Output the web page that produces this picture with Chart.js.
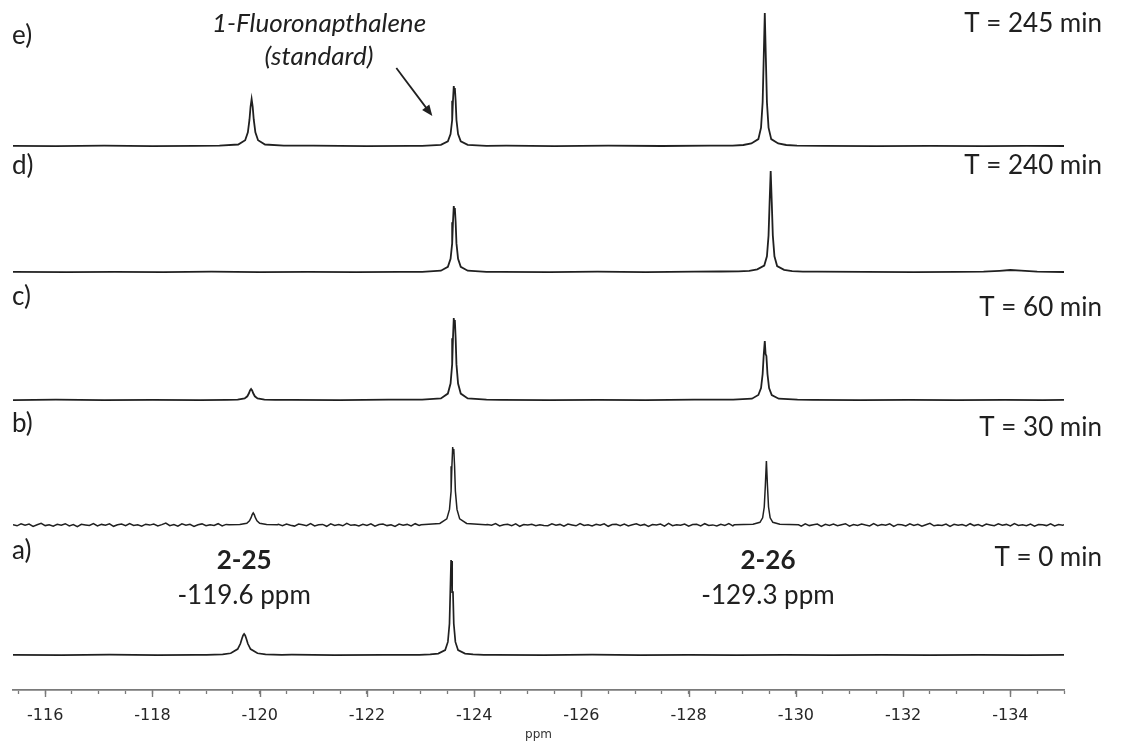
<!DOCTYPE html>
<html>
<head>
<meta charset="utf-8">
<script src="https://cdn.jsdelivr.net/npm/chart.js@4.4.1/dist/chart.umd.min.js"></script>
<style>
  html, body { margin: 0; padding: 0; background: #ffffff; }
  canvas { display: block; }
</style>
</head>
<body>
<canvas id="nmr" width="1121" height="742"></canvas>
<script>
// 19F NMR reaction monitoring: five stacked spectra (bottom a → top e)
const panelLetters = ['a)', 'b)', 'c)', 'd)', 'e)'];
const panelTimes   = ['T = 0 min', 'T = 30 min', 'T = 60 min', 'T = 240 min', 'T = 245 min'];
const ppmTickLabels = [-116, -118, -120, -122, -124, -126, -128, -130, -132, -134];

// a) T = 0 min — baseline points and peaks as [ppm, intensity]
const specA_base = [[-115.4,0.2],[-116.3,-0.2],[-117.2,0.3],[-118.1,-0.1],[-118.8,0.2],[-120.6,0.3],[-121.4,-0.2],[-122.3,0.2],
  [-124.4,0.2],[-125.3,-0.2],[-126.2,0.3],[-127.1,-0.1],[-128.0,0.2],[-128.9,-0.2],[-129.8,0.2],[-130.7,-0.1],[-131.6,0.2],
  [-132.5,-0.2],[-133.4,0.2],[-134.3,-0.1],[-135.0,0.1]];
const specA_peaks = [
  [[-119.01,0.2],[-119.31,0.7],[-119.46,1.7],[-119.59,5.9],[-119.64,11.2],[-119.67,16.4],[-119.69,19.6],[-119.71,21],
   [-119.73,19.6],[-119.75,16.4],[-119.78,11.2],[-119.83,5.9],[-119.96,1.7],[-120.11,0.7],[-120.41,0.2]],
  [[-122.98,0.2],[-123.18,0.6],[-123.33,1.4],[-123.46,4.9],[-123.51,13.1],[-123.54,31.3],[-123.555,62.9],[-123.57,95],
   [-123.58,88],[-123.59,94],[-123.605,62.9],[-123.62,31.3],[-123.65,13.1],[-123.70,4.9],[-123.83,1.4],[-123.98,0.6],[-124.18,0.2]]
];

// b) T = 30 min — noisier acquisition, baseline read every 0.075 ppm from -115.4
const specB_noise = [0.4,-0.8,1.2,-0.3,0.9,-1.4,0.2,1.6,-0.6,0.3,-1.1,0.8,-0.2,1.3,-0.9,0.5,-1.6,0.7,0.1,-0.5,
  1.4,-1.0,0.6,-0.3,1.1,-1.3,0.2,0.9,-0.7,1.5,-0.4,0.3,-1.2,0.8,-0.1,1.0,-0.9,0.4,2.0,-0.6,
  0.5,-1.1,1.2,-0.2,0.7,-1.5,0.3,1.1,-0.8,0.2,-0.4,1.3,-1.0,0.6,-0.3,0.9,-1.2,1.6,-0.5,0.1,
  -0.9,0.8,-0.3,1.2,-1.4,0.4,0.7,-0.6,1.0,-0.2,-1.1,0.9,0.3,-0.7,1.4,-0.9,0.2,0.6,-1.3,1.1,
  -0.4,0.5,-0.8,1.7,-0.3,0.2,-1.0,0.8,-0.5,1.2,-1.1,0.4,0.9,-0.6,0.3,-1.4,1.0,-0.2,0.6,-0.9,
  1.3,-0.4,0.1,-1.2,0.7,0.5,-0.8,1.1,-0.3,0.9,-1.5,0.4,1.2,-0.7,0.2,-0.4,1.0,-1.1,0.6,-0.2,
  1.4,-0.9,0.3,0.8,-0.6,1.1,-1.3,0.5,-0.1,0.7,-0.8,0.3,-0.5,
  -0.7,1.1,-0.2,0.6,-1.2,0.9,0.1,-0.8,1.5,-0.5,0.3,-1.0,0.7,-0.3,1.2,-1.3,0.4,0.8,-0.6,1.0,
  -0.9,0.2,1.3,-0.4,0.6,-1.5,0.5,-0.1,0.9,-1.1,1.6,-0.7,0.3,-0.2,1.0,-1.2,0.4,0.7,-0.9,1.3,
  -0.5,0.1,-1.0,0.8,-0.4,1.4,-0.8,0.5,-1.3,0.9,0.2,-0.6,1.1,-1.0,0.3,-0.3,1.5,-0.9,0.6,-1.4,
  0.8,-0.2,0.4,-1.1,1.2,-0.6,0.2,0.9,-1.3,0.7,-0.4,1.0,-0.8,0.3,1.3,-1.2,0.5,-0.5,0.9,-0.1,
  -1.0,1.4,-0.7,0.4,-0.3,1.1,-1.4,0.6,0.2,-0.9,1.2,-0.5,0.8,-1.1,0.3,1.6,-0.8,0.1,-0.4,1.0,
  -1.3,0.7,-0.2,0.5,-0.9,1.3,-0.6,0.4,-1.2,0.9,0.1,-0.7,1.1,-0.3,0.6,-1.0,1.4,-0.5,0.2,-0.8,
  1.0,-1.1,0.5,0.3,-0.6,1.2,-0.9,0.4,-0.2,0.8,-1.2,0.6,-0.4];
const specB_peaks = [
  [[-119.43,0.2],[-119.63,0.5],[-119.76,1.8],[-119.81,4.1],[-119.84,7.3],[-119.86,10.3],[-119.88,12],
   [-119.90,10.3],[-119.92,7.3],[-119.95,4.1],[-120.00,1.8],[-120.13,0.5],[-120.33,0.2]],
  [[-123.01,0.3],[-123.36,1.5],[-123.49,6.1],[-123.54,15.6],[-123.57,33.9],[-123.585,58.8],[-123.60,78],
   [-123.61,71],[-123.62,76],[-123.635,58.8],[-123.65,33.9],[-123.68,15.6],[-123.73,6.1],[-123.86,1.5],[-124.21,0.3]],
  [[-128.85,0.2],[-129.20,0.7],[-129.33,2.7],[-129.38,7.2],[-129.41,18],[-129.43,39],[-129.45,64],
   [-129.47,39],[-129.49,18],[-129.52,7.2],[-129.57,2.7],[-129.70,0.7],[-130.05,0.2]]
];

// c) T = 60 min
const specC_base = [[-115.4,-0.1],[-116.2,0.3],[-117.1,-0.2],[-118.0,0.2],[-118.9,-0.1],[-120.6,0.2],[-121.5,-0.2],[-122.4,0.3],
  [-124.5,0.2],[-125.4,-0.2],[-126.3,0.2],[-127.2,-0.1],[-128.1,0.3],[-130.3,0.2],[-131.2,-0.2],[-132.1,0.2],[-133.0,-0.1],
  [-133.9,0.2],[-134.6,-0.1],[-135.0,0.1]];
const specC_peaks = [
  [[-119.39,0.2],[-119.59,0.4],[-119.72,1.6],[-119.77,3.7],[-119.80,6.7],[-119.82,9.5],[-119.84,11],
   [-119.86,9.5],[-119.88,6.7],[-119.91,3.7],[-119.96,1.6],[-120.09,0.4],[-120.29,0.2]],
  [[-123.03,0.3],[-123.38,1.6],[-123.51,6.4],[-123.56,16.4],[-123.59,35.6],[-123.605,61.8],[-123.62,82],
   [-123.63,74],[-123.64,80],[-123.655,61.8],[-123.67,35.6],[-123.70,16.4],[-123.75,6.4],[-123.88,1.6],[-124.23,0.3]],
  [[-128.83,0.3],[-129.18,1.3],[-129.30,5],[-129.35,12],[-129.38,26],[-129.40,45],[-129.42,59],
   [-129.435,46],[-129.45,44],[-129.47,26],[-129.50,12],[-129.55,5],[-129.68,1.3],[-130.03,0.3]]
];

// d) T = 240 min
const specD_base = [[-115.4,0.2],[-116.4,-0.2],[-117.3,0.2],[-118.2,-0.1],[-119.1,0.3],[-120.0,-0.2],[-120.9,0.2],[-121.8,-0.1],
  [-122.6,0.2],[-124.5,0.2],[-125.4,-0.1],[-126.3,0.3],[-127.2,-0.2],[-128.1,0.4],[-128.6,0.5],[-130.4,0.4],[-131.3,0.1],
  [-132.2,-0.1],[-133.0,0.2],[-133.5,0.3],[-133.8,1.2],[-134.0,2],[-134.2,1.4],[-134.5,0.3],[-135.0,0]];
const specD_peaks = [
  [[-123.03,0.2],[-123.38,1.3],[-123.51,5.1],[-123.56,13.2],[-123.59,28.6],[-123.605,49.8],[-123.62,66],
   [-123.63,60],[-123.64,64],[-123.655,49.8],[-123.67,28.6],[-123.70,13.2],[-123.75,5.1],[-123.88,1.3],[-124.23,0.2]],
  [[-128.93,0.6],[-129.13,1.2],[-129.28,2.6],[-129.41,6.4],[-129.46,15.7],[-129.49,36.4],[-129.51,69.9],[-129.53,101],
   [-129.55,69.9],[-129.57,36.4],[-129.60,15.7],[-129.65,5.9],[-129.78,2.2],[-129.93,0.9],[-130.13,0.4]]
];

// e) T = 245 min
const specE_base = [[-115.4,0.2],[-116.2,-0.2],[-117.1,0.3],[-118.0,-0.1],[-118.8,0.2],[-121.0,0.3],[-122.0,-0.2],[-122.8,0.2],
  [-124.6,0.3],[-125.5,-0.2],[-126.5,0.3],[-127.5,0],[-128.4,0.3],[-130.5,0.2],[-131.5,-0.2],[-132.5,0.2],[-133.5,-0.1],
  [-134.3,0.2],[-135.0,0]];
const specE_peaks = [
  [[-119.25,0.3],[-119.60,1.5],[-119.73,5.8],[-119.78,13.7],[-119.81,26.3],[-119.83,39.2],[-119.85,47],
   [-119.87,39.2],[-119.89,26.3],[-119.92,13.7],[-119.97,5.8],[-120.10,1.5],[-120.45,0.3]],
  [[-123.03,0.2],[-123.38,1.1],[-123.51,4.7],[-123.56,12],[-123.59,26],[-123.605,45.2],[-123.62,60],
   [-123.63,54],[-123.64,58],[-123.655,45.2],[-123.67,26],[-123.70,12],[-123.75,4.7],[-123.88,1.1],[-124.23,0.2]],
  [[-128.82,0.4],[-129.02,1.0],[-129.17,2.5],[-129.30,6.9],[-129.35,18.4],[-129.38,43.8],[-129.40,88],[-129.42,133],
   [-129.44,88],[-129.46,43.8],[-129.49,18.4],[-129.54,6.9],[-129.67,2.5],[-129.82,1.0],[-130.02,0.4]]
];

// ---- layout of the stack (vertical offset of each spectrum's baseline) ----
const stackOffset = { a: 35, b: 165, c: 290, d: 418, e: 544 };
const PPM_LEFT = -115.4, PPM_RIGHT = -135.0;

function noiseToBase(values, start, step) {
  return values.map((v, i) => [start - i * step, v]);
}

// merge baseline readings with the peak profiles; baseline points inside a peak window are dropped
function buildSeries(base, peaks, offset) {
  const windows = peaks.map(p => {
    const xs = p.map(q => q[0]);
    return [Math.min(...xs), Math.max(...xs)];
  });
  const kept = base.filter(([x]) => x >= PPM_RIGHT && x <= PPM_LEFT &&
    !windows.some(([lo, hi]) => x >= lo && x <= hi));
  const pts = kept.concat(...peaks).sort((p, q) => p[0] - q[0]);
  return pts.map(([x, y]) => ({ x: x, y: y + offset }));
}

const specB_base = noiseToBase(specB_noise, PPM_LEFT, 0.075).concat([[PPM_RIGHT, 0.2]]);

const series = [
  { name: 'a', data: buildSeries(specA_base, specA_peaks, stackOffset.a), width: 1.7 },
  { name: 'b', data: buildSeries(specB_base, specB_peaks, stackOffset.b), width: 1.5 },
  { name: 'c', data: buildSeries(specC_base, specC_peaks, stackOffset.c), width: 1.8 },
  { name: 'd', data: buildSeries(specD_base, specD_peaks, stackOffset.d), width: 1.8 },
  { name: 'e', data: buildSeries(specE_base, specE_peaks, stackOffset.e), width: 1.8 }
];

const INK = '#202020';

// longer marks for the labelled (major) ppm ticks
const majorTicks = {
  id: 'majorTicks',
  afterDraw(chart) {
    const xs = chart.scales.x, ctx = chart.ctx;
    ctx.save();
    ctx.strokeStyle = '#7a7a7a';
    ctx.lineWidth = 1.4;
    ppmTickLabels.forEach(v => {
      const px = Math.round(xs.getPixelForValue(v)) + 0.5;
      ctx.beginPath();
      ctx.moveTo(px, xs.top);
      ctx.lineTo(px, xs.top + 7);
      ctx.stroke();
    });
    ctx.restore();
  }
};

// text annotations: panel letters, acquisition times, compound labels, standard arrow
const annotations = {
  id: 'annotations',
  afterDraw(chart) {
    const ctx = chart.ctx;
    const xs = chart.scales.x, ys = chart.scales.y;
    ctx.save();
    ctx.fillStyle = INK;
    ctx.textBaseline = 'middle';

    ctx.font = '26px Lato';
    ctx.textAlign = 'left';
    const letterY = [551, 424, 297, 166, 36];
    panelLetters.forEach((t, i) => ctx.fillText(t, 12, letterY[i]));

    ctx.textAlign = 'right';
    const timeY = [558, 428, 308, 166, 24];
    panelTimes.forEach((t, i) => ctx.fillText(t, 1102, timeY[i]));

    // compound labels above spectrum a
    ctx.textAlign = 'center';
    const x25 = xs.getPixelForValue(-119.71);
    const x26 = xs.getPixelForValue(-129.48);
    ctx.font = 'bold 26px Lato';
    ctx.fillText('2-25', x25, 561);
    ctx.fillText('2-26', x26, 561);
    ctx.font = '26px Lato';
    ctx.fillText('-119.6 ppm', x25, 596);
    ctx.fillText('-129.3 ppm', x26, 596);

    // internal standard label and arrow
    ctx.font = 'italic 26px Lato';
    ctx.fillText('1-Fluoronapthalene', 319, 24);
    ctx.fillText('(standard)', 319, 57);

    const tipX = xs.getPixelForValue(-123.22), tipY = ys.getPixelForValue(574);
    const tailX = tipX - 36, tailY = tipY - 48;
    const ang = Math.atan2(tipY - tailY, tipX - tailX);
    ctx.strokeStyle = INK;
    ctx.lineWidth = 1.8;
    ctx.beginPath();
    ctx.moveTo(tailX, tailY);
    ctx.lineTo(tipX - 7 * Math.cos(ang), tipY - 7 * Math.sin(ang));
    ctx.stroke();
    ctx.beginPath();
    ctx.moveTo(tipX, tipY);
    ctx.lineTo(tipX - 11 * Math.cos(ang) + 4.5 * Math.sin(ang), tipY - 11 * Math.sin(ang) - 4.5 * Math.cos(ang));
    ctx.lineTo(tipX - 11 * Math.cos(ang) - 4.5 * Math.sin(ang), tipY - 11 * Math.sin(ang) + 4.5 * Math.cos(ang));
    ctx.closePath();
    ctx.fill();
    ctx.restore();
  }
};

function draw() {
  new Chart(document.getElementById('nmr'), {
    type: 'line',
    data: {
      datasets: series.map(s => ({
        label: s.name,
        data: s.data,
        borderColor: INK,
        borderWidth: s.width,
        pointRadius: 0,
        tension: 0,
        fill: false
      }))
    },
    options: {
      responsive: false,
      animation: false,
      events: [],
      layout: { padding: { left: 13, right: 57, top: 0, bottom: 0 } },
      plugins: { legend: { display: false }, tooltip: { enabled: false } },
      scales: {
        x: {
          type: 'linear',
          reverse: true,
          min: PPM_RIGHT,
          max: PPM_LEFT,
          afterBuildTicks(scale) {
            const t = [];
            for (let v = -135; v <= -115.5 + 1e-9; v += 0.5) t.push({ value: Math.round(v * 2) / 2 });
            scale.ticks = t;
          },
          afterFit(scale) { scale.height = 52; },
          border: { display: true, color: '#7a7a7a', width: 1.8 },
          grid: {
            display: true,
            drawOnChartArea: false,
            drawTicks: true,
            tickLength: 4,
            color: '#7a7a7a',
            tickWidth: 1.3
          },
          ticks: {
            autoSkip: false,
            maxRotation: 0,
            padding: 12,
            color: '#262626',
            font: { family: 'DejaVu Sans', size: 16 },
            callback: v => ppmTickLabels.includes(v) ? String(v) : ''
          },
          title: {
            display: true,
            text: 'ppm',
            color: '#333333',
            font: { family: 'DejaVu Sans', size: 12 },
            padding: { top: 0, bottom: 0 }
          }
        },
        y: { display: false, min: 0, max: 690 }
      }
    },
    plugins: [majorTicks, annotations]
  });
}

Promise.all([
  document.fonts.load('26px Lato'),
  document.fonts.load('bold 26px Lato'),
  document.fonts.load('italic 26px Lato'),
  document.fonts.load('16px "DejaVu Sans"')
]).then(draw, draw);
</script>
</body>
</html>
